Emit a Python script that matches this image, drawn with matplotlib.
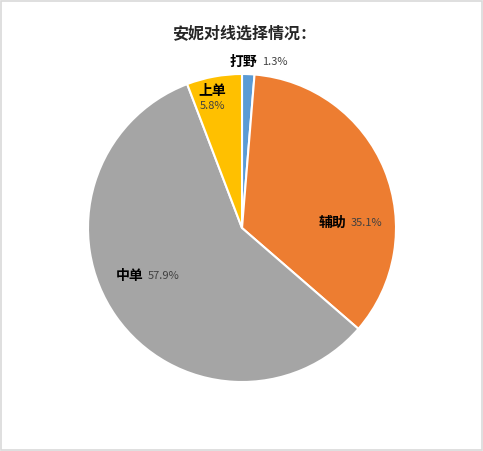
import matplotlib.pyplot as plt
from matplotlib.patches import Rectangle

plt.rcParams['font.family'] = ['Noto Sans CJK SC', 'DejaVu Sans']

# Data
title = '安妮对线选择情况：'
positions = ['打野', '辅助', '中单', '上单']
shares = [1.3, 35.1, 57.9, 5.8]
colors = ['#5B9BD5', '#ED7D31', '#A5A5A5', '#FFC000']

# label placement (axes data units, pie radius = 1)
label_xy = [(0.11, 1.08), (0.69, 0.03), (-0.63, -0.31), (-0.19, 0.84)]
stacked = [False, False, False, True]

W, H = 483, 451
fig = plt.figure(figsize=(W / 100, H / 100), dpi=100)
fig.patches.append(Rectangle((0.002, 0.002), 0.996, 0.996, transform=fig.transFigure,
                             fill=False, edgecolor='#D9D9D9', linewidth=1.2))

cx, cy, r = 242, 451 - 228, 154
ax = fig.add_axes([(cx - r) / W, (cy - r) / H, 2 * r / W, 2 * r / H])
ax.pie(shares, colors=colors, startangle=90, counterclock=False, radius=1,
       wedgeprops=dict(edgecolor='white', linewidth=1.5))
ax.set_xlim(-1, 1)
ax.set_ylim(-1, 1)
ax.axis('off')

for name, val, (x, y), st in zip(positions, shares, label_xy, stacked):
    if st:
        ax.text(x, y + 0.05, name, ha='center', va='center', fontsize=10,
                fontweight='heavy', color='black', clip_on=False)
        ax.text(x, y - 0.045, f'{val}%', ha='center', va='center', fontsize=8,
                color='#404040', clip_on=False)
    else:
        ax.annotate(name, (x, y), ha='right', va='center', fontsize=10,
                    fontweight='heavy', color='black', annotation_clip=False,
                    xytext=(-1, 0), textcoords='offset points')
        ax.annotate(f'{val}%', (x, y), ha='left', va='center', fontsize=8,
                    color='#404040', annotation_clip=False,
                    xytext=(2, 0), textcoords='offset points')

fig.text(244 / W, 1 - 33 / H, title, ha='center', va='center', fontsize=11.5,
         fontweight='heavy', color='#262626')

fig.savefig('out.png', dpi=100)
